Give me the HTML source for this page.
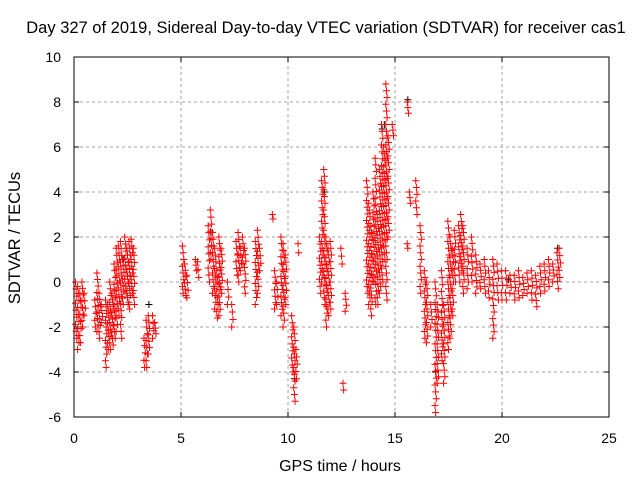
<!DOCTYPE html>
<html><head><meta charset="utf-8"><style>
body{margin:0;background:#fff}
svg{display:block;font-family:"Liberation Sans",sans-serif}
</style></head><body>
<svg id="chart" width="640" height="480">
<text x="326" y="33" font-size="16.5" text-anchor="middle">Day 327 of 2019, Sidereal Day-to-day VTEC variation (SDTVAR) for receiver cas1</text>
<text x="340" y="471" font-size="16" text-anchor="middle">GPS time / hours</text>
<text transform="translate(20,238) rotate(-90)" font-size="16.5" text-anchor="middle">SDTVAR / TECUs</text>
<g id="grid"></g><g id="ticks"></g><g id="marks"></g>
<rect x="74" y="57" width="535" height="360" fill="none" stroke="#000" stroke-width="1"/>
</svg>
<script>
const xTicks=[0,5,10,15,20,25];
const yTicks=[-6,-4,-2,0,2,4,6,8,10];
const streakTime=[0.1,0.2,0.3,0.4,0.5,1.0,1.1,1.2,1.3,1.5,1.6,1.7,1.8,1.9,2.0,2.1,2.2,2.3,2.4,2.5,2.6,2.7,2.8,3.3,3.4,3.5,3.7,3.8,5.1,5.2,5.3,5.7,5.8,6.3,6.4,6.5,6.6,6.7,6.8,6.9,7.2,7.4,7.6,7.7,7.8,7.9,8.0,8.5,8.6,8.7,9.3,9.4,9.5,9.7,9.8,9.9,10.2,10.3,10.4,10.5,11.5,11.6,11.7,11.8,11.9,12.0,12.5,12.6,12.7,13.7,13.8,13.9,14.0,14.1,14.2,14.3,14.4,14.5,14.6,14.7,14.9,15.6,15.7,15.6,16.0,16.2,16.4,16.5,16.7,16.9,17.0,17.2,17.3,17.5,17.6,17.7,17.8,18.0,18.1,18.2,18.4,18.6,18.8,19.0,19.2,19.4,19.6,19.8,20.0,20.2,20.4,20.6,20.8,21.0,21.2,21.4,21.6,21.8,22.0,22.2,22.4,22.6,22.7];
const streakHigh=[0,-0.2,-0.5,0,-0.5,-0.8,0.4,-0.5,-1,-0.8,-1,0,-0.5,0.8,1.5,1.6,1.8,1,2,1.5,1.8,1.9,1.5,-2.5,-1.7,-1.5,-1.5,-1.8,1.6,0.8,0.3,1,0.9,2.5,3.2,2.2,1.5,0.5,2,1.5,0,-1,1.8,2.2,1.5,2,1.5,1.8,2.3,1.5,3,0.5,0,2,1.7,1.2,-1.5,-2,-3,1.7,2,4.5,5,2,1.5,1.8,1.5,-4.5,-0.5,4.5,3.5,2.5,4,5.5,3,5,7,6,8.8,6.5,7,8,4,1.7,4.5,2.5,0.5,0,-1,0,-1,0.5,-1,2.7,2,1.5,2.3,2.5,3,2.5,1.5,2,1.2,0.8,1,0.5,1,0.8,0.5,0.5,0.3,0.3,0.5,0.2,0.4,0.5,0.3,0.7,0.8,1,0.8,1.3,1.5];
const streakLow=[-2.5,-3,-2.7,-2,-1.5,-2,-2.2,-2.5,-1.8,-3.8,-3,-3,-2.8,-2.5,-2.2,-1.5,-2.5,-1,-0.5,-1,-1.2,-0.5,-1,-3.8,-3.8,-3.2,-2.5,-2.3,-0.5,-0.6,-0.7,0.5,0.2,0,1,-0.5,-1.2,-1.6,-1.5,-0.5,-1,-2,0.3,0,0.5,0.8,-0.5,-1,-0.5,0.5,2.8,-1.2,-1,-1.5,-2,-1,-4,-5.3,-4.3,1.3,-0.5,0,-1,-2,-1.5,-1.2,0.8,-4.8,-1.3,-0.5,-1,-1.5,0,-1,-1,-0.5,0,1,-0.8,2,6.5,7.5,3.5,1.5,3,-0.5,-2.5,-2.7,-2,-5.8,-4.5,-3.5,-4.5,-3,-2.5,-1.5,0,0,0.5,-0.5,-0.3,0,-0.5,-0.3,-0.5,-0.7,-2.5,-0.8,-0.8,-0.8,-0.5,-0.8,-0.7,-0.6,-0.5,-0.8,-1.1,-0.5,-0.4,-0.2,0,-0.3,0.2];
const blackTime=[14.5,15.6,11.7,2.3,16.9,20.3,22.6,6.4,10.3,14.4,3.5];
const blackValue=[7,8.1,4,1,-4,0.1,1.5,2.2,-4.3,6.8,-1];
const X0=74,X1=609,Y0=417,Y1=57;
const sx=v=>X0+(v-0)/(25-0)*(X1-X0);
const sy=v=>Y0-(v+6)/(16)*(Y0-Y1);
const NS="http://www.w3.org/2000/svg";
const grid=document.getElementById('grid'),ticks=document.getElementById('ticks'),marks=document.getElementById('marks');
function mk(tag,attrs,parent){const e=document.createElementNS(NS,tag);for(const k in attrs)e.setAttribute(k,attrs[k]);parent.appendChild(e);return e;}
xTicks.forEach(t=>{const x=sx(t);
 if(t>0&&t<25){const g=mk('line',{x1:x,x2:x,y1:Y0,y2:Y1,stroke:'#a0a0a0','stroke-dasharray':'3,3'},grid);}
 const l=mk('text',{x:x,y:443,'font-size':14,'text-anchor':'middle'},ticks);l.textContent=t;
 
 
 mk('line',{x1:x,x2:x,y1:Y0,y2:Y0-5,stroke:'#000'},ticks);mk('line',{x1:x,x2:x,y1:Y1,y2:Y1+5,stroke:'#000'},ticks);});
yTicks.forEach(t=>{const y=sy(t);
 if(t>-6&&t<10){const g=mk('line',{x1:X0,x2:X1,y1:y,y2:y,stroke:'#a0a0a0','stroke-dasharray':'3,3'},grid);}
 const l=mk('text',{x:61,y:y+5,'font-size':14,'text-anchor':'end'},ticks);l.textContent=t;
 
 
 mk('line',{x1:X0,x2:X0+5,y1:y,y2:y,stroke:'#000'},ticks);mk('line',{x1:X1,x2:X1-5,y1:y,y2:y,stroke:'#000'},ticks);});
function plus(x,y,c,name){const p=mk('path',{d:`M${x-3.5},${y}h7M${x},${y-3.5}v7`,stroke:c,'stroke-width':1,fill:'none'},marks);
 
 }
blackTime.forEach((t,i)=>plus(sx(t),sy(blackValue[i]),'#000','black-point'));
streakTime.forEach((t,i)=>{const hi=streakHigh[i],lo=streakLow[i];
 const n=Math.max(1,Math.round((hi-lo)/0.3));
 for(let k=0;k<=n;k++){const v=hi-(hi-lo)*k/n;const jt=t+((k%3)-1)*0.03;plus(sx(jt),sy(v),'#ff0000','red-point');}});
</script>
</body></html>
